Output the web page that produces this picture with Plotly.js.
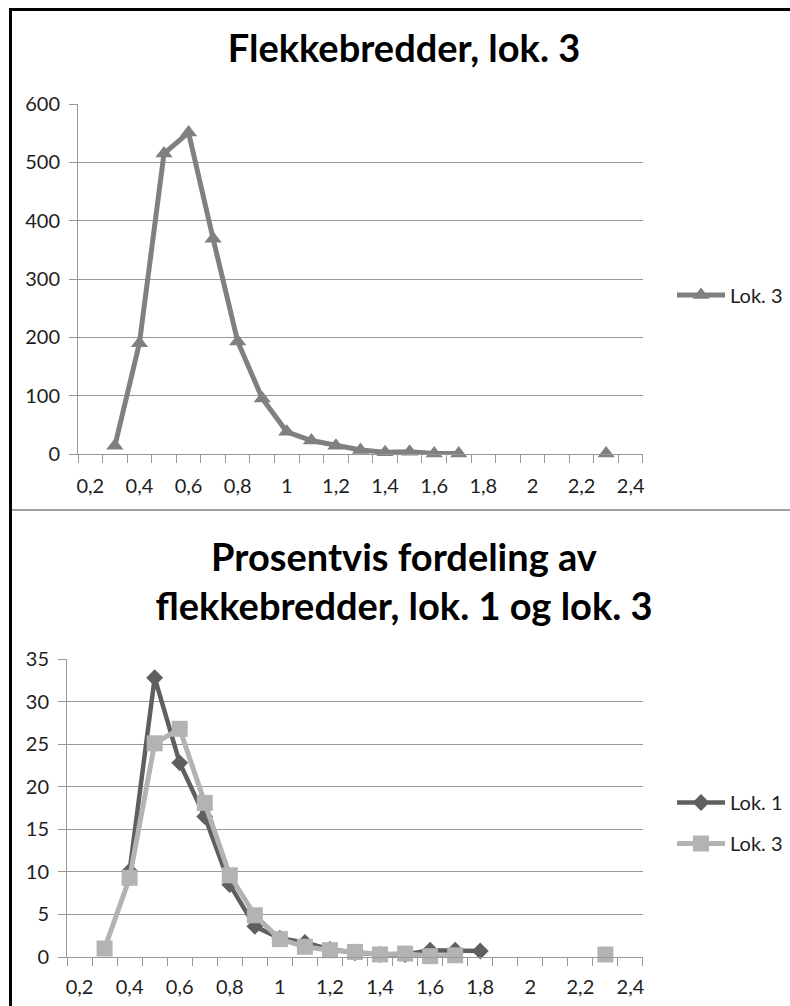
<!DOCTYPE html>
<html>
<head>
<meta charset="utf-8">
<script src="https://cdn.plot.ly/plotly-3.0.1.min.js"></script>
<style>
  html, body { margin:0; padding:0; background:#fff; width:790px; height:1006px; overflow:hidden; }
  #c1 { position:absolute; left:0; top:0; width:790px; height:510px; }
  #c2 { position:absolute; left:0; top:510px; width:790px; height:496px; }
  .frame-left { position:absolute; left:9px; top:8px; width:3px; height:998px; background:#000; z-index:10; }
  .frame-top { position:absolute; left:9px; top:8px; width:781px; height:3px; background:#000; z-index:10; }
  .divider { position:absolute; left:12px; top:509px; width:778px; height:2px; background:#a0a0a0; z-index:10; }
</style>
</head>
<body>
<div id="c1"></div>
<div id="c2"></div>
<div class="frame-left"></div>
<div class="frame-top"></div>
<div class="divider"></div>
<script>
// Category widths (x axis), 0.2 .. 2.4
const widths = [0.2,0.3,0.4,0.5,0.6,0.7,0.8,0.9,1.0,1.1,1.2,1.3,1.4,1.5,1.6,1.7,1.8,1.9,2.0,2.1,2.2,2.3,2.4];
const tickVals = [0.2,0.4,0.6,0.8,1.0,1.2,1.4,1.6,1.8,2.0,2.2,2.4];
const tickText = ["0,2","0,4","0,6","0,8","1","1,2","1,4","1,6","1,8","2","2,2","2,4"];

// Chart 1: counts, Lok. 3
const lok3Count = [null,14,190,515,551,369,193,95,38,23,14,7,3,4,1,1,null,null,null,null,null,1,null];

// Chart 2: percentages
const lok1Pct = [null,null,10.1,32.8,22.8,16.5,8.5,3.6,2.2,1.7,0.9,0.5,0.3,0.3,0.8,0.8,0.7,null,null,null,null,null,null];
const lok3Pct = [null,1.0,9.3,25.1,26.8,18.1,9.6,4.9,2.1,1.2,0.8,0.6,0.3,0.4,0.1,0.2,null,null,null,null,null,0.3,null];

const FONT = 'Lato, "Open Sans", sans-serif';
const AX = '#989898';
const TXT = '#1e1e1e';

function xAxis(standoffLen) {
  return {
    range:[0.1499, 2.4501], tickmode:'array', tickvals:tickVals, ticktext:tickText,
    ticks:'outside', ticklen:standoffLen, tickcolor:'rgba(0,0,0,0)',
    showline:true, linecolor:AX, linewidth:1, showgrid:false, zeroline:false,
    tickfont:{family:FONT, size:20, color:TXT},
    minor:{tickmode:'linear', tick0:0.15, dtick:0.1, ticks:'outside', ticklen:8, tickcolor:AX, tickwidth:1, showgrid:false},
    fixedrange:true
  };
}
function yAxis(range, dtick) {
  return {
    range:range, tick0:0, dtick:dtick, ticks:'outside', ticklen:8, tickcolor:AX,
    showgrid:true, gridcolor:AX, gridwidth:1, showline:true, linecolor:AX, linewidth:1,
    zeroline:false, tickfont:{family:FONT, size:20, color:TXT}, ticklabelstandoff:5, fixedrange:true
  };
}

const trace1 = {
  x: widths, y: lok3Count, type:'scatter', mode:'lines+markers', name:'Lok. 3',
  line:{color:'#808080', width:5}, marker:{symbol:'triangle-up', size:15, color:'#808080'},
  connectgaps:false, cliponaxis:false
};

const layout1 = {
  width:790, height:510,
  margin:{l:78, r:147, t:104, b:56, autoexpand:false},
  paper_bgcolor:'#fff', plot_bgcolor:'#fff',
  title:{text:'Flekkebredder, lok. 3', font:{family:FONT, size:38, color:'#000', weight:'bold'},
         x:404/790, xanchor:'center', xref:'container', y:1-49/510, yanchor:'middle', yref:'container'},
  xaxis: xAxis(14),
  yaxis: yAxis([0,600], 100),
  showlegend:true,
  legend:{xref:'container', yref:'container', x:672/790, xanchor:'left', y:1-295/510, yanchor:'middle',
          font:{family:FONT, size:20, color:TXT}, bgcolor:'rgba(0,0,0,0)', itemwidth:48}
};

const trace2a = {
  x: widths, y: lok1Pct, type:'scatter', mode:'lines+markers', name:'Lok. 1', legendgroup:'a',
  line:{color:'#5f5f5f', width:4.5}, marker:{symbol:'diamond', size:13, color:'#5f5f5f'},
  connectgaps:false, cliponaxis:false
};
const trace2b = {
  x: widths, y: lok3Pct, type:'scatter', mode:'lines+markers', name:'Lok. 3', legendgroup:'b',
  line:{color:'#b3b3b3', width:5}, marker:{symbol:'square', size:16, color:'#b3b3b3'},
  connectgaps:false, cliponaxis:false
};

const layout2 = {
  width:790, height:496,
  margin:{l:67, r:147, t:149, b:49, autoexpand:false},
  paper_bgcolor:'#fff', plot_bgcolor:'#fff',
  title:{text:'Prosentvis fordeling av<br>flekkebredder, lok. 1 og lok. 3',
         font:{family:FONT, size:38, color:'#000', weight:'bold'},
         x:404/790, xanchor:'center', xref:'container', y:1-61/496, yanchor:'middle', yref:'container'},
  xaxis: xAxis(12),
  yaxis: yAxis([0,35], 5),
  showlegend:true,
  legend:{xref:'container', yref:'container', x:672/790, xanchor:'left', y:1-313/496, yanchor:'middle',
          font:{family:FONT, size:20, color:TXT}, bgcolor:'rgba(0,0,0,0)', itemwidth:48,
          tracegroupgap:12, traceorder:'grouped'}
};

Plotly.newPlot('c1', [trace1], layout1, {staticPlot:true, displayModeBar:false});
Plotly.newPlot('c2', [trace2a, trace2b], layout2, {staticPlot:true, displayModeBar:false});
</script>
</body>
</html>
